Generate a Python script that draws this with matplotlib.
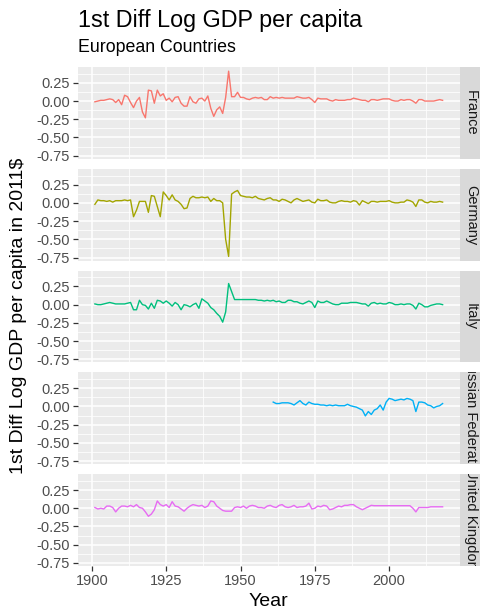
import matplotlib
matplotlib.use("Agg")
import matplotlib.pyplot as plt
import numpy as np

plt.rcParams['font.family'] = ['Liberation Sans', 'DejaVu Sans']
plt.rcParams['axes.unicode_minus'] = False

years = list(range(1901, 2019))
years_ru = list(range(1961, 2019))

france = [
    -0.01, 0.00, 0.01, 0.01, 0.02, 0.03, 0.02, -0.02, 0.02, -0.05,
    0.08, 0.06, -0.02, -0.09, 0.00, 0.05, -0.15, -0.23, 0.15, 0.14,
    -0.03, 0.15, 0.07, 0.10, 0.01, 0.04, -0.01, 0.05, 0.06, -0.03,
    -0.07, -0.07, 0.06, -0.01, -0.03, 0.03, 0.04, 0.00, 0.07, -0.10,
    -0.21, -0.12, -0.08, -0.17, 0.05, 0.41, 0.06, 0.06, 0.12, 0.05,
    0.05, 0.03, 0.02, 0.04, 0.05, 0.04, 0.05, 0.02, 0.02, 0.06,
    0.04, 0.05, 0.04, 0.05, 0.04, 0.04, 0.04, 0.04, 0.06, 0.05,
    0.04, 0.04, 0.05, 0.02, -0.02, 0.04, 0.03, 0.03, 0.03, 0.01,
    0.00, 0.02, 0.01, 0.01, 0.01, 0.02, 0.02, 0.04, 0.03, 0.02,
    0.01, 0.01, -0.01, 0.02, 0.02, 0.01, 0.02, 0.03, 0.03, 0.03,
    0.01, 0.00, 0.00, 0.02, 0.01, 0.02, 0.02, 0.00, -0.03, 0.02,
    0.02, 0.00, 0.00, 0.00, 0.00, 0.01, 0.02, 0.01,
]

germany = [
    -0.02, 0.04, 0.03, 0.03, 0.02, 0.03, 0.01, 0.03, 0.03, 0.03,
    0.04, 0.03, 0.04, -0.19, -0.10, 0.02, 0.02, 0.02, -0.13, 0.10,
    0.09, -0.05, -0.19, 0.15, 0.10, 0.04, 0.11, 0.04, 0.02, -0.02,
    -0.08, -0.07, 0.06, 0.09, 0.07, 0.07, 0.08, 0.07, 0.08, 0.02,
    0.06, 0.03, 0.03, 0.00, -0.50, -0.735, 0.12, 0.15, 0.17, 0.10,
    0.09, 0.08, 0.08, 0.07, 0.09, 0.06, 0.05, 0.04, 0.06, 0.07,
    0.04, 0.04, 0.02, 0.05, 0.04, 0.02, 0.00, 0.04, 0.06, 0.04,
    0.02, 0.03, 0.04, 0.01, 0.00, 0.05, 0.03, 0.03, 0.04, 0.01,
    0.00, 0.00, 0.02, 0.03, 0.02, 0.02, 0.01, 0.03, 0.02, -0.03,
    0.03, 0.01, -0.01, 0.02, 0.02, 0.01, 0.02, 0.02, 0.02, 0.03,
    0.01, 0.00, 0.00, 0.01, 0.01, 0.04, 0.03, 0.01, -0.05, 0.04,
    0.04, 0.01, 0.00, 0.02, 0.01, 0.01, 0.02, 0.01,
]

italy = [
    0.01, 0.00, 0.00, 0.01, 0.02, 0.03, 0.02, 0.01, 0.01, 0.01,
    0.01, 0.02, 0.03, -0.07, -0.07, 0.06, 0.00, -0.01, -0.06, 0.02,
    -0.05, 0.06, 0.05, 0.02, 0.05, 0.02, -0.02, 0.03, 0.00, -0.07,
    0.00, -0.01, -0.03, 0.00, 0.02, -0.05, 0.08, 0.05, 0.02, -0.04,
    -0.07, -0.12, -0.16, -0.24, -0.10, 0.29, 0.18, 0.07, 0.07, 0.07,
    0.07, 0.07, 0.07, 0.07, 0.07, 0.06, 0.06, 0.05, 0.06, 0.05,
    0.06, 0.04, 0.05, 0.03, 0.03, 0.06, 0.06, 0.04, 0.04, 0.02,
    0.01, 0.03, 0.05, 0.03, -0.04, 0.05, 0.03, 0.03, 0.05, 0.03,
    0.01, 0.00, 0.00, 0.02, 0.02, 0.02, 0.03, 0.03, 0.03, 0.02,
    0.01, 0.01, -0.02, 0.02, 0.03, 0.01, 0.02, 0.01, 0.01, 0.03,
    0.02, 0.00, 0.00, 0.01, 0.00, 0.01, 0.01, -0.01, -0.06, 0.02,
    0.00, -0.03, -0.03, -0.01, 0.00, 0.01, 0.01, 0.00,
]

russia = [
    0.06, 0.04, 0.04, 0.05, 0.05, 0.05, 0.04, 0.02, 0.05, 0.08,
    0.04, 0.02, 0.06, 0.04, 0.03, 0.03, 0.02, 0.02, 0.01, 0.02,
    0.01, 0.02, 0.01, 0.01, 0.01, 0.03, 0.01, 0.00, -0.01, -0.03,
    -0.05, -0.13, -0.07, -0.11, -0.05, -0.03, 0.02, -0.05, 0.06, 0.11,
    0.10, 0.08, 0.09, 0.10, 0.09, 0.11, 0.10, 0.08, -0.07, 0.06,
    0.06, 0.05, 0.02, 0.01, -0.02, 0.00, 0.01, 0.04,
]

uk = [
    0.01, -0.01, 0.00, -0.01, 0.03, 0.03, 0.01, -0.05, 0.00, 0.03,
    0.03, 0.02, 0.04, 0.02, 0.05, 0.01, 0.00, -0.05, -0.11, -0.08,
    -0.02, 0.10, 0.05, 0.03, 0.05, 0.01, 0.09, 0.03, 0.02, -0.01,
    -0.04, 0.00, 0.03, 0.05, 0.04, 0.03, 0.04, 0.01, 0.03, 0.10,
    0.09, 0.03, 0.00, -0.03, -0.04, -0.04, -0.04, 0.01, 0.02, 0.01,
    0.03, 0.00, 0.03, 0.04, 0.03, 0.01, 0.01, 0.00, 0.03, 0.04,
    0.02, 0.01, 0.04, 0.05, 0.02, 0.01, 0.02, 0.04, 0.01, 0.02,
    0.02, 0.03, 0.07, -0.01, 0.00, 0.03, 0.02, 0.04, 0.03, -0.02,
    -0.01, 0.01, 0.03, 0.02, 0.04, 0.04, 0.05, 0.05, 0.02, 0.00,
    -0.02, 0.00, 0.02, 0.04, 0.035, 0.035, 0.035, 0.035, 0.035, 0.035,
    0.035, 0.035, 0.035, 0.035, 0.035, 0.035, 0.035, 0.00, -0.05, 0.01,
    0.01, 0.01, 0.01, 0.02, 0.02, 0.02, 0.02, 0.02,
]

countries = ["France", "Germany", "Italy", "Russian Federation", "United Kingdom"]
series = [(years, france), (years, germany), (years, italy), (years_ru, russia), (years, uk)]
colors = ["#F8766D", "#A3A500", "#00BF7D", "#00B0F6", "#E76BF3"]

y_ticks = [-0.75, -0.50, -0.25, 0.00, 0.25]
y_minor = [-0.625, -0.375, -0.125, 0.125, 0.375]
x_ticks = [1900, 1925, 1950, 1975, 2000]
x_minor = [1912.5, 1937.5, 1962.5, 1987.5, 2012.5]

W, H = 480, 611
fig = plt.figure(figsize=(W / 100, H / 100), dpi=100)

# shared limits (ggplot 5% expansion)
all_x = np.concatenate([np.array(s[0]) for s in series])
all_y = np.concatenate([np.array(s[1]) for s in series])
xr = all_x.max() - all_x.min()
yr = all_y.max() - all_y.min()
xlim = (all_x.min() - 0.05 * xr, all_x.max() + 0.05 * xr)
ylim = (all_y.min() - 0.05 * yr, all_y.max() + 0.05 * yr)

left_px, right_px = 77.5, 460
strip_w = 22
top0 = 67.0
panel_h = 91.8
gap = 10.0

for i, (name, (xs, ys), col) in enumerate(zip(countries, series, colors)):
    top = top0 + i * (panel_h + gap)
    ax = fig.add_axes([left_px / W, 1 - (top + panel_h) / H,
                       (right_px - left_px) / W, panel_h / H])
    ax.set_facecolor("#EBEBEB")
    for s in ax.spines.values():
        s.set_visible(False)
    ax.set_xlim(*xlim)
    ax.set_ylim(*ylim)
    ax.set_yticks(y_ticks)
    ax.set_yticks(y_minor, minor=True)
    ax.set_xticks(x_ticks)
    ax.set_xticks(x_minor, minor=True)
    ax.set_yticklabels([f"{v:.2f}" for v in y_ticks])
    ax.grid(True, which="major", color="white", linewidth=1.1)
    ax.grid(True, which="minor", color="white", linewidth=0.55)
    ax.set_axisbelow(True)
    ax.tick_params(axis="both", which="major", length=3.5, width=0.9,
                   color="#333333", labelcolor="#4D4D4D", labelsize=10.5, pad=2)
    ax.tick_params(axis="both", which="minor", length=0)
    if i < 4:
        ax.tick_params(axis="x", which="major", labelbottom=False, length=0)
    ax.plot(xs, ys, color=col, linewidth=1.0)

    sax = fig.add_axes([right_px / W, 1 - (top + panel_h) / H,
                        strip_w / W, panel_h / H])
    sax.set_facecolor("#D9D9D9")
    sax.set_xticks([])
    sax.set_yticks([])
    for s in sax.spines.values():
        s.set_visible(False)
    sax.set_xlim(0, 1)
    sax.set_ylim(0, 1)
    sax.text(0.5, 0.5, name, rotation=-90, ha="center", va="center",
             fontsize=10.5, color="#1A1A1A", transform=sax.transAxes,
             clip_on=True)

fig.text(78 / W, 1 - 20 / H, "1st Diff Log GDP per capita", fontsize=16.8,
         ha="left", va="center", color="black")
fig.text(78 / W, 1 - 48 / H, "European Countries", fontsize=12.8,
         ha="left", va="center", color="black")
fig.text((left_px + right_px) / 2 / W, 1 - 601 / H, "Year", fontsize=14,
         ha="center", va="center", color="black")
fig.text(19 / W, 1 - 316 / H, "1st Diff Log GDP per capita in 2011$", fontsize=14,
         ha="center", va="center", rotation=90, color="black")

fig.savefig("out.png", dpi=100)
